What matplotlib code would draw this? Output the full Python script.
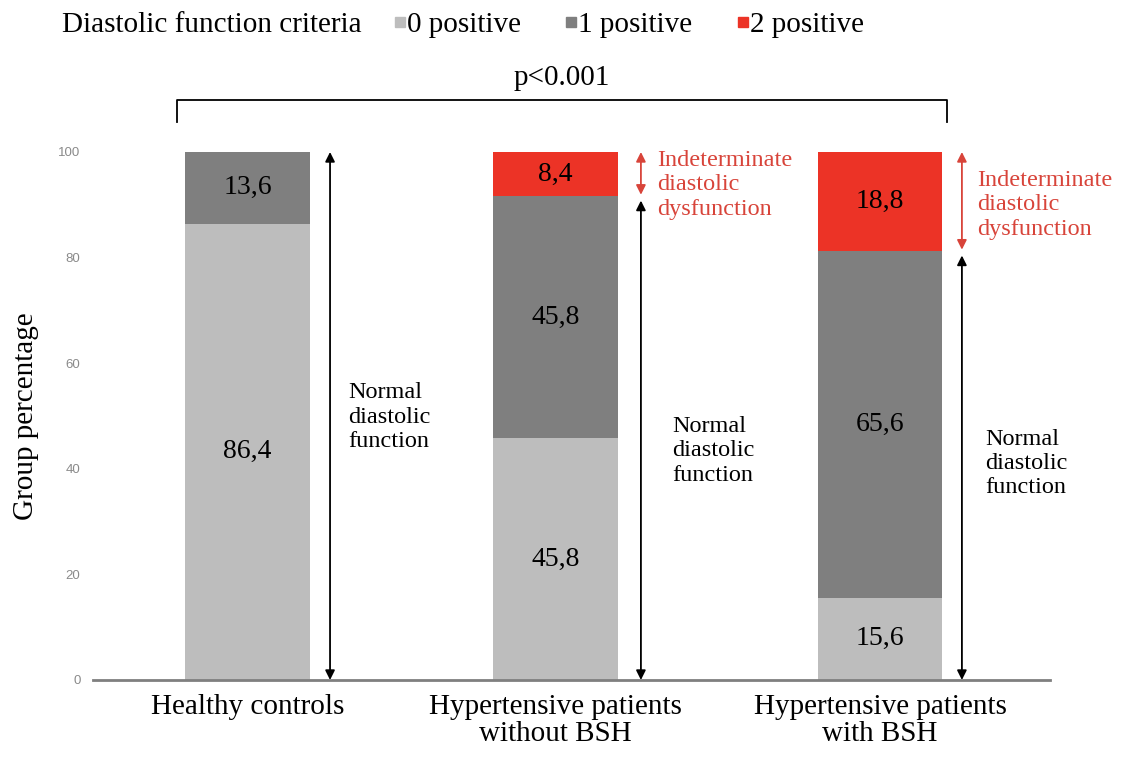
import numpy as np
import matplotlib
matplotlib.use("Agg")
import matplotlib.pyplot as plt
from matplotlib.patches import Rectangle

groups = ["Healthy controls", "Hypertensive patients\nwithout BSH", "Hypertensive patients\nwith BSH"]
zero_pos = [86.4, 45.8, 15.6]
one_pos = [13.6, 45.8, 65.6]
two_pos = [0.0, 8.4, 18.8]
series_names = ["0 positive", "1 positive", "2 positive"]
p_text = "p<0.001"

X_POS = np.array([0, 0.974, 2])
C_LIGHT = "#BDBDBD"
C_DARK = "#7F7F7F"
C_RED = "#EC3326"
C_RED_TXT = "#D8443A"
SERIF = ["Liberation Serif", "DejaVu Serif"]

plt.rcParams.update({"font.family": SERIF})

fig = plt.figure(figsize=(11.28, 7.57), dpi=100)
ax = fig.add_axes([93 / 1128, 1 - 680 / 757, (1050 - 93) / 1128, 528 / 757])

w = 0.395
zero_pos_a = np.array(zero_pos)
one_pos_a = np.array(one_pos)
two_pos_a = np.array(two_pos)
ax.bar(X_POS, zero_pos_a, w, color=C_LIGHT, lw=0)
ax.bar(X_POS, one_pos_a, w, bottom=zero_pos_a, color=C_DARK, lw=0)
ax.bar(X_POS, two_pos_a, w, bottom=zero_pos_a + one_pos_a, color=C_RED, lw=0)

# value labels inside segments
for i, x in enumerate(X_POS):
    base = 0
    for v in (zero_pos[i], one_pos[i], two_pos[i]):
        if v > 0:
            ax.text(x, base + v / 2, f"{v:.1f}".replace(".", ","), ha="center", va="center",
                    fontsize=20, color="black")
        base += v

# arrows and annotations
arrow_dx = [0.261, 0.270, 0.259]
normal_dx = [0.318, 0.368, 0.332]
normal_y = [49.8, 43.4, 41.0]
indet_dx = [None, 0.321, 0.307]
indet_y = [None, 93.75, 90.0]
for i, x in enumerate(X_POS):
    top = 100 - two_pos[i]
    xa = x + arrow_dx[i]
    gap = 0.8 if two_pos[i] > 0 else 0
    ax.annotate("", xy=(xa, 0), xytext=(xa, top - gap),
                arrowprops=dict(arrowstyle="<|-|>", color="black", lw=1.3,
                                mutation_scale=14, shrinkA=0, shrinkB=0))
    ax.text(x + normal_dx[i], normal_y[i], "Normal\ndiastolic\nfunction", ha="left", va="center",
            fontsize=17.5, linespacing=1.2, color="black")
    if two_pos[i] > 0:
        ax.annotate("", xy=(xa, top + 0.3), xytext=(xa, 100),
                    arrowprops=dict(arrowstyle="<|-|>", color=C_RED_TXT, lw=1.3,
                                    mutation_scale=14, shrinkA=0, shrinkB=0))
        ax.text(x + indet_dx[i], indet_y[i], "Indeterminate\ndiastolic\ndysfunction", ha="left",
                va="center", fontsize=17.5, linespacing=1.2, color=C_RED_TXT)

# significance bracket
bx0, bx1 = -0.223, 2.212
ax.plot([bx0, bx0, bx1, bx1], [105.7, 109.85, 109.85, 105.7], color="black", lw=1.3,
        clip_on=False, solid_joinstyle="round")
ax.text((bx0 + bx1) / 2, 114.0, p_text, ha="center", va="center", fontsize=21)

ax.set_xlim((93 - 247.5) / 316.25, (1050 - 247.5) / 316.25)
ax.set_ylim(0, 100)
ax.set_yticks([0, 20, 40, 60, 80, 100])
ax.tick_params(axis="y", length=0, pad=9, labelsize=9.5, labelcolor="#8A8A8A")
for lab in ax.get_yticklabels():
    lab.set_family(["Liberation Sans", "DejaVu Sans"])
ax.set_xticks(X_POS)
ax.set_xticklabels(groups, fontsize=21, linespacing=1.05)
ax.tick_params(axis="x", length=0, pad=10)
ax.set_ylabel("Group percentage", fontsize=21, labelpad=14)
for s in ("top", "right", "left"):
    ax.spines[s].set_visible(False)
ax.spines["bottom"].set_color("#7F7F7F")
ax.spines["bottom"].set_linewidth(2)

# legend row at the top
base_y = 1 - 32 / 757
fig.text(62 / 1128, base_y, "Diastolic function criteria", ha="left", va="baseline", fontsize=21)
sq_x = [395, 566, 738]
for name, c, sx in zip(series_names, [C_LIGHT, C_DARK, C_RED], sq_x):
    fig.patches.append(Rectangle((sx / 1128, 1 - 27 / 757), 10 / 1128, 10 / 757,
                                 transform=fig.transFigure, color=c, figure=fig))
    fig.text((sx + 12) / 1128, base_y, name, ha="left", va="baseline", fontsize=21)

fig.savefig("out.png", dpi=100)
